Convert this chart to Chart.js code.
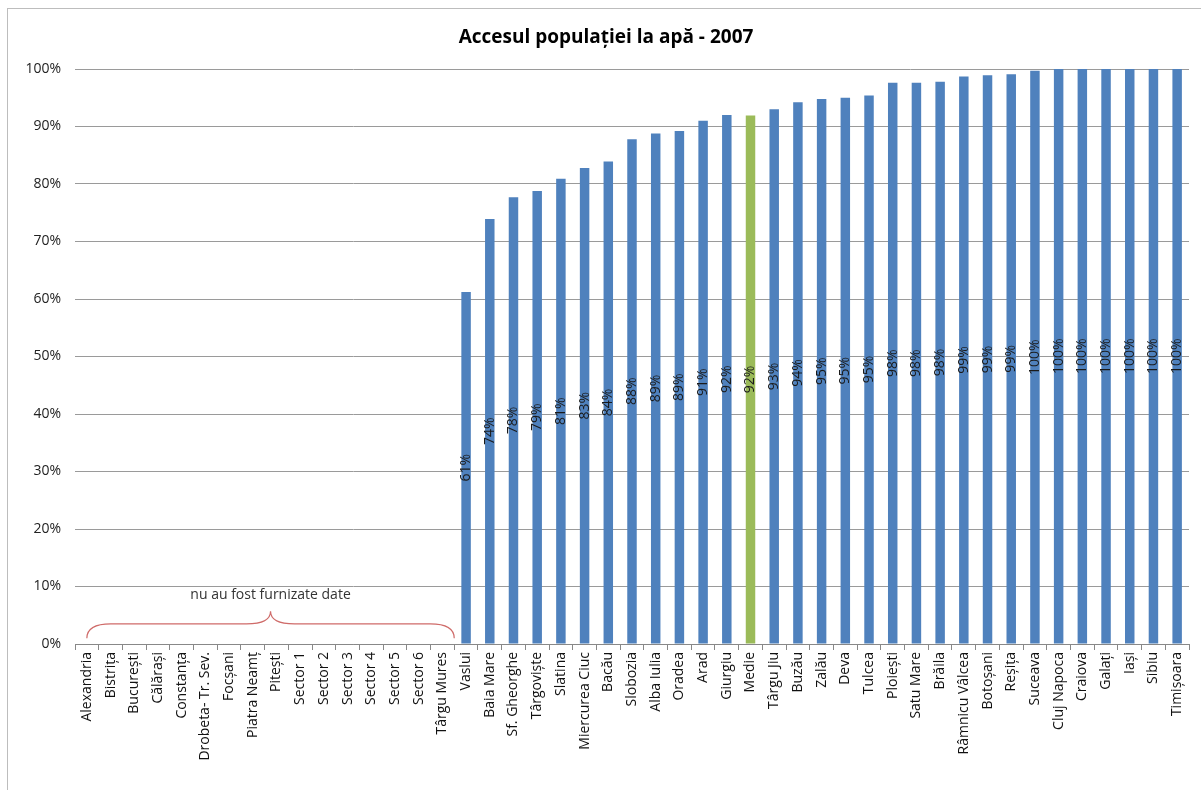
<!DOCTYPE html>
<html>
<head>
<meta charset="utf-8">
<script src="https://cdn.jsdelivr.net/npm/chart.js@4"></script>
<style>
  body { margin: 0; background: #fff; overflow: hidden; }
  .frame { position: absolute; left: 7px; top: 8px; width: 1200px; height: 790px; border: 1px solid #bdbdbd; box-sizing: border-box; }
  #wrap { position: absolute; left: 0; top: 0; width: 1201px; height: 790px; }
  .title { position: absolute; left: 306px; width: 600px; top: 23px; text-align: center;
           font: bold 19px 'Open Sans', sans-serif; color: #000; line-height: 26px; }
</style>
</head>
<body>
<div class="frame"></div>
<div id="wrap"><canvas id="apa"></canvas></div>
<div class="title">Accesul populației la apă - 2007</div>
<script>
// orase, in ordinea din grafic
const cities = [
  "Alexandria", "Bistrița", "București", "Călărași", "Constanța", "Drobeta- Tr. Sev.",
  "Focșani", "Piatra Neamț", "Pitești", "Sector 1", "Sector 2", "Sector 3", "Sector 4",
  "Sector 5", "Sector 6", "Târgu Mures", "Vaslui", "Baia Mare", "Sf. Gheorghe", "Târgoviște",
  "Slatina", "Miercurea Ciuc", "Bacău", "Slobozia", "Alba Iulia", "Oradea", "Arad", "Giurgiu",
  "Medie", "Târgu Jiu", "Buzău", "Zalău", "Deva", "Tulcea", "Ploiești", "Satu Mare", "Brăila",
  "Râmnicu Vâlcea", "Botoșani", "Reșița", "Suceava", "Cluj Napoca", "Craiova", "Galați",
  "Iași", "Sibiu", "Timișoara"
];
// procent acces la apa (null = nu au fost furnizate date)
const access = [
  null, null, null, null, null, null, null, null, null, null, null, null, null, null, null, null,
  61.2, 73.9, 77.7, 78.8, 80.9, 82.8, 83.9, 87.8, 88.8, 89.2, 91.0, 92.0,
  91.9, 93.0, 94.2, 94.8, 95.0, 95.4, 97.6, 97.6, 97.8, 98.7, 98.9, 99.1, 99.7,
  100, 100, 100, 100, 100, 100
];
const yTicks = [0, 10, 20, 30, 40, 50, 60, 70, 80, 90, 100];
const noDataText = "nu au fost furnizate date";
const noDataFrom = 0, noDataTo = 15;

const FONT = "'Open Sans', sans-serif";
const barColors = cities.map(c => c === "Medie" ? "#9bbb59" : "#4f81bd");

// etichete rotite in mijlocul fiecarei coloane
const barLabels = {
  id: "barLabels",
  afterDatasetsDraw(chart) {
    const ctx = chart.ctx;
    const meta = chart.getDatasetMeta(0);
    ctx.save();
    ctx.font = "14px " + FONT;
    ctx.fillStyle = "#1a1a1a";
    ctx.textAlign = "center";
    ctx.textBaseline = "middle";
    meta.data.forEach((bar, i) => {
      const v = access[i];
      if (v == null) return;
      const y = (bar.y + bar.base) / 2;
      ctx.save();
      ctx.translate(bar.x, y);
      ctx.rotate(-Math.PI / 2);
      ctx.fillText(Math.round(v) + "%", 0, 0);
      ctx.restore();
    });
    ctx.restore();
  }
};

// acolada peste orasele fara date
const noDataBrace = {
  id: "noDataBrace",
  afterDatasetsDraw(chart) {
    const x = chart.scales.x, y = chart.scales.y, ctx = chart.ctx;
    const x0 = x.getPixelForValue(noDataFrom);
    const x1 = (x.getPixelForValue(noDataTo) + x.getPixelForValue(noDataTo + 1)) / 2;
    const xm = (x0 + x1) / 2;
    const yEnd = y.getPixelForValue(1), yMid = y.getPixelForValue(3.5), yPeak = y.getPixelForValue(5.7);
    const r = 24;
    ctx.save();
    ctx.strokeStyle = "#cf6b69";
    ctx.lineWidth = 1.2;
    ctx.beginPath();
    ctx.moveTo(x0, yEnd);
    ctx.quadraticCurveTo(x0, yMid, x0 + r, yMid);
    ctx.lineTo(xm - r, yMid);
    ctx.quadraticCurveTo(xm, yMid, xm, yPeak);
    ctx.quadraticCurveTo(xm, yMid, xm + r, yMid);
    ctx.lineTo(x1 - r, yMid);
    ctx.quadraticCurveTo(x1, yMid, x1, yEnd);
    ctx.stroke();
    ctx.font = "14px " + FONT;
    ctx.fillStyle = "#333";
    ctx.textAlign = "center";
    ctx.textBaseline = "middle";
    ctx.fillText(noDataText, xm, y.getPixelForValue(8.6));
    ctx.restore();
  }
};

new Chart(document.getElementById("apa"), {
  type: "bar",
  data: {
    labels: cities,
    datasets: [{
      data: access,
      backgroundColor: barColors,
      barPercentage: 0.4,
      categoryPercentage: 1
    }]
  },
  options: {
    responsive: true,
    maintainAspectRatio: false,
    animation: false,
    // sus: loc pentru titlu
    layout: { padding: { left: 0, right: 12, top: 69, bottom: 0 } },
    plugins: {
      legend: { display: false },
      tooltip: { enabled: false },
      title: { display: false }
    },
    scales: {
      x: {
        grid: { offset: true, drawOnChartArea: false, drawTicks: true, tickLength: 6, color: "#888" },
        border: { color: "#888" },
        ticks: {
          autoSkip: false,
          minRotation: 90,
          maxRotation: 90,
          padding: 2,
          color: "#111",
          font: { family: FONT, size: 14 }
        },
        afterFit(scale) { scale.height = 146; }
      },
      y: {
        min: 0,
        max: 100,
        afterBuildTicks(scale) { scale.ticks = yTicks.map(v => ({ value: v })); },
        grid: { color: "#9a9a9a", drawTicks: false },
        border: { display: false },
        ticks: {
          padding: 14,
          color: "#222",
          font: { family: FONT, size: 14 },
          callback: v => v + "%"
        },
        afterFit(scale) { scale.width = 75; }
      }
    }
  },
  plugins: [barLabels, noDataBrace]
});
</script>
</body>
</html>
